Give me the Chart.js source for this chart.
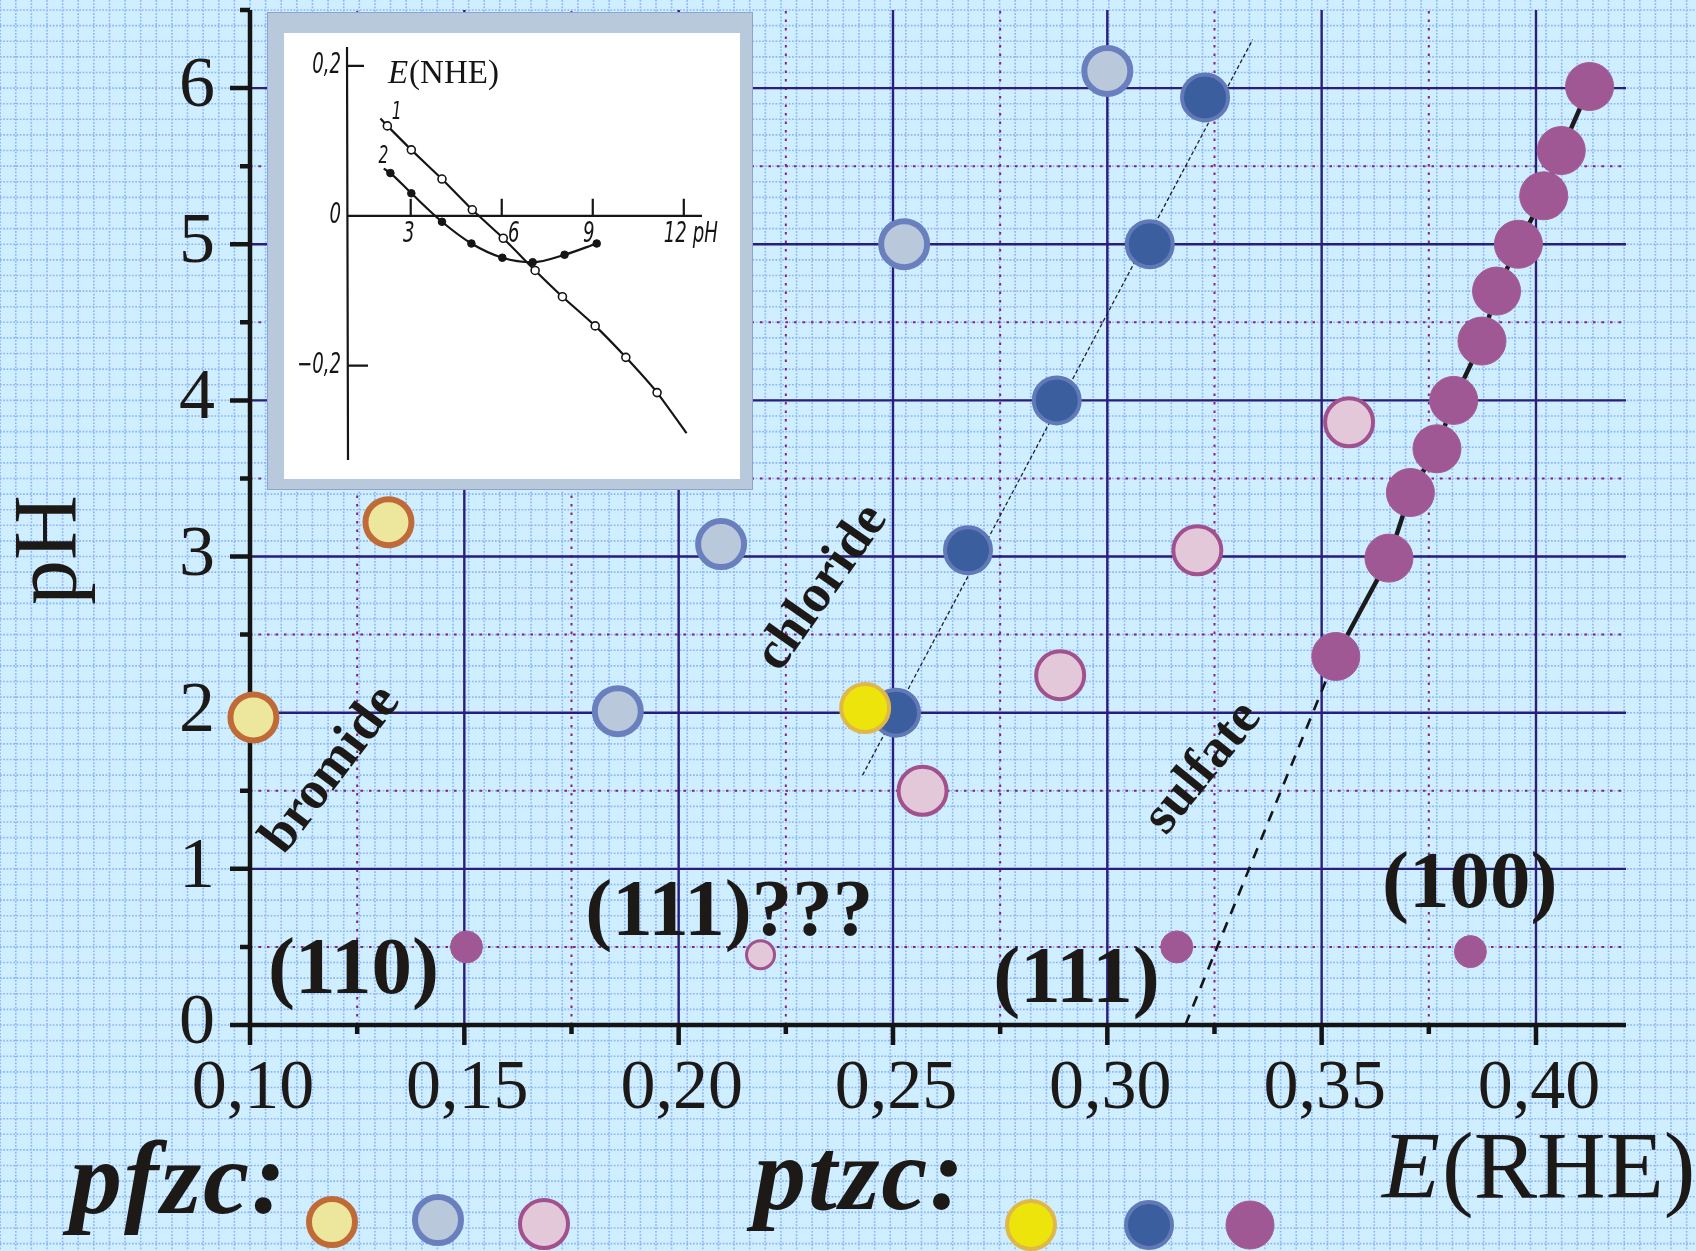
<!DOCTYPE html>
<html>
<head>
<meta charset="utf-8">
<title>pfzc / ptzc vs pH</title>
<script src="https://cdn.jsdelivr.net/npm/chart.js@4.4.1/dist/chart.umd.min.js"></script>
<style>
  html, body { margin: 0; padding: 0; background: #cdedff; }
  #wrap { position: relative; width: 1696px; height: 1251px; overflow: hidden; }
  #main { position: absolute; left: 0; top: 0; }
  #insetBox {
    position: absolute; left: 267px; top: 12px; width: 486px; height: 478px;
    box-sizing: border-box; background: #b8c9dc; border: 1.5px solid #8ea3cf;
  }
  #inset { position: absolute; left: 15.5px; top: 20px; background: #fff; }
</style>
</head>
<body>
<div id="wrap">
  <canvas id="main" width="1696" height="1251"></canvas>
  <div id="insetBox"><canvas id="inset" width="456" height="446"></canvas></div>
</div>
<script>
// ============================================
// E(RHE) vs pH : potentials of zero charge (pfzc / ptzc)
// ============================================

const SERIF = '"Liberation Serif", "DejaVu Serif", serif';
const NARROW = '"DejaVu Sans Condensed", "Liberation Sans", sans-serif';
const INK = '#1c1917';

// --- main chart data: E(RHE) in V, pH ---
// pfzc (open circles)
const pfzcBromideE  = [0.0757, 0.1008, 0.1323];
const pfzcBromidePH = [1.10, 1.97, 3.22];
const pfzcChlorideE  = [0.1858, 0.2099, 0.2526, 0.3000];
const pfzcChloridePH = [2.01, 3.08, 5.00, 6.11];
const pfzcSulfateE  = [0.2569, 0.2890, 0.3210, 0.3564];
const pfzcSulfatePH = [1.50, 2.24, 3.04, 3.86];
const pfzc111E  = [0.2191];
const pfzc111PH = [0.45];

// ptzc (filled circles)
const ptzcBromideE  = [0.2435];
const ptzcBromidePH = [2.03];
const ptzcChlorideE  = [0.2507, 0.2675, 0.2882, 0.3099, 0.3228];
const ptzcChloridePH = [2.00, 3.04, 4.00, 5.00, 5.94];
const ptzc100E  = [0.3533, 0.3657, 0.3707, 0.3769, 0.3808, 0.3874, 0.3908, 0.3959, 0.4018, 0.4059, 0.4125];
const ptzc100PH = [2.36, 2.99, 3.41, 3.69, 4.00, 4.38, 4.70, 5.00, 5.31, 5.60, 6.01];
const ptzcLowE  = [0.1505, 0.3162, 0.3847];   // (110), (111), (100) at pH 0.5
const ptzcLowPH = [0.50, 0.50, 0.47];

// guide lines
const chlorideLineE  = [0.2429, 0.3339];
const chlorideLinePH = [1.60, 6.31];
const sulfateLineE  = [0.3182, 0.3533];
const sulfateLinePH = [0.00, 2.36];

// axes
const xMajorTicks = [0.10, 0.15, 0.20, 0.25, 0.30, 0.35, 0.40];
const xTickLabels = ['0,10', '0,15', '0,20', '0,25', '0,30', '0,35', '0,40'];
const xMinorTicks = [0.125, 0.175, 0.225, 0.275, 0.325, 0.375];
const yMajorTicks = [0, 1, 2, 3, 4, 5, 6];
const yTickLabels = ['0', '1', '2', '3', '4', '5', '6'];
const yMinorTicks = [0.5, 1.5, 2.5, 3.5, 4.5, 5.5, 6.5];

// --- inset data: E(NHE) in V vs pH ---
const inset1PH = [2.00, 2.23, 3.02, 4.03, 5.03, 6.05, 7.10, 8.00, 9.08, 10.09, 11.12, 12.09];
const inset1E  = [0.130, 0.120, 0.088, 0.049, 0.008, -0.030, -0.073, -0.108, -0.147, -0.189, -0.236, -0.290];
const inset2PH = [2.11, 2.33, 3.02, 4.03, 5.00, 6.02, 7.02, 8.07, 9.13];
const inset2E  = [0.063, 0.057, 0.030, -0.008, -0.037, -0.056, -0.062, -0.052, -0.037];
const insetXTicks = [3, 6, 9, 12];
const insetXLabels = ['3', '6', '9', '12 pH'];
const insetYTicks = [0.2, 0, -0.2];
const insetYLabels = ['0,2', '0', '\u22120,2'];

// marker styles
const STYLE = {
    brOpen: { bg: '#ece79c', border: '#c06b37', bw: 6, r: 23 },
    clOpen: { bg: '#b9c8db', border: '#6a80be', bw: 6, r: 23 },
    soOpen: { bg: '#e3c8d9', border: '#a2518f', bw: 4, r: 24 },
    brFill: { bg: '#ece40b', border: '#dfb84a', bw: 4, r: 24 },
    clFill: { bg: '#3b5e9e', border: '#6279b8', bw: 4, r: 23 },
    soFill: { bg: '#9f5894', border: '#a25c97', bw: 1, r: 24 }
};

const pts = (xs, ys) => xs.map((x, i) => ({ x, y: ys[i] }));

function dotSet(xs, ys, st, order, r, bw) {
    return {
        data: pts(xs, ys),
        order,
        clip: false,
        showLine: false,
        pointRadius: r || st.r,
        pointHoverRadius: r || st.r,
        pointBackgroundColor: st.bg,
        pointBorderColor: st.border,
        pointBorderWidth: bw || st.bw
    };
}

function dot(ctx, x, y, st) {
    ctx.beginPath();
    ctx.arc(x, y, st.r, 0, Math.PI * 2);
    ctx.fillStyle = st.bg;
    ctx.fill();
    ctx.lineWidth = st.bw;
    ctx.strokeStyle = st.border;
    ctx.stroke();
}

// graph-paper background
const paperPlugin = {
    id: 'paper',
    beforeDraw(chart) {
        const { ctx, width, height } = chart;
        const sx = chart.scales.x, sy = chart.scales.y;
        const step = sy.getPixelForValue(0) - sy.getPixelForValue(0.1);
        const x0 = sx.getPixelForValue(0.10), y0 = sy.getPixelForValue(0);
        ctx.save();
        ctx.fillStyle = '#cfeeff';
        ctx.fillRect(0, 0, width, height);
        ctx.strokeStyle = 'rgba(112,156,244,0.7)';
        ctx.lineWidth = 1.6;
        ctx.setLineDash([1.7, 1.6]);
        ctx.beginPath();
        for (let px = x0 % step; px < width; px += step) {
            ctx.moveTo(px, 0); ctx.lineTo(px, height);
        }
        for (let py = y0 % step; py < height; py += step) {
            ctx.moveTo(0, py); ctx.lineTo(width, py);
        }
        ctx.stroke();
        ctx.restore();
    }
};

// grid, axes, ticks, titles
const framePlugin = {
    id: 'frame',
    beforeDatasetsDraw(chart) {
        const { ctx, chartArea: a } = chart;
        const sx = chart.scales.x, sy = chart.scales.y;
        const X = v => sx.getPixelForValue(v);
        const Y = v => sy.getPixelForValue(v);
        ctx.save();

        // minor dotted grid
        ctx.strokeStyle = '#8c1f7c';
        ctx.lineWidth = 2;
        ctx.setLineDash([2.5, 6]);
        ctx.beginPath();
        xMinorTicks.forEach(v => { ctx.moveTo(X(v), a.bottom); ctx.lineTo(X(v), a.top); });
        yMinorTicks.filter(v => v < 6.5).forEach(v => { ctx.moveTo(a.left, Y(v)); ctx.lineTo(a.right, Y(v)); });
        ctx.stroke();

        // major grid
        ctx.setLineDash([]);
        ctx.strokeStyle = '#2b1d7a';
        ctx.lineWidth = 2.4;
        ctx.beginPath();
        xMajorTicks.slice(1).forEach(v => { ctx.moveTo(X(v), a.bottom); ctx.lineTo(X(v), a.top); });
        yMajorTicks.slice(1).forEach(v => { ctx.moveTo(a.left, Y(v)); ctx.lineTo(a.right, Y(v)); });
        ctx.stroke();

        // axes + ticks
        ctx.strokeStyle = '#141414';
        ctx.lineWidth = 4.5;
        ctx.beginPath();
        ctx.moveTo(a.left - 20, a.bottom); ctx.lineTo(a.right, a.bottom);
        ctx.moveTo(a.left, a.bottom + 20); ctx.lineTo(a.left, a.top);
        xMajorTicks.forEach(v => { ctx.moveTo(X(v), a.bottom); ctx.lineTo(X(v), a.bottom + 20); });
        xMinorTicks.forEach(v => { ctx.moveTo(X(v), a.bottom); ctx.lineTo(X(v), a.bottom + 9); });
        yMajorTicks.forEach(v => { ctx.moveTo(a.left, Y(v)); ctx.lineTo(a.left - 20, Y(v)); });
        yMinorTicks.forEach(v => { ctx.moveTo(a.left, Y(v)); ctx.lineTo(a.left - 10, Y(v)); });
        ctx.stroke();

        // tick labels
        ctx.fillStyle = INK;
        ctx.font = `70px ${SERIF}`;
        ctx.textBaseline = 'alphabetic';
        ctx.textAlign = 'center';
        xMajorTicks.forEach((v, i) => ctx.fillText(xTickLabels[i], X(v) + 3, 1108));
        ctx.textAlign = 'right';
        ctx.font = `72px ${SERIF}`;
        yMajorTicks.forEach((v, i) => ctx.fillText(yTickLabels[i], a.left - 35, Y(v) + 18));

        // axis titles
        ctx.save();
        ctx.translate(76, 550);
        ctx.rotate(-Math.PI / 2);
        ctx.textAlign = 'center';
        ctx.font = `90px ${SERIF}`;
        ctx.fillText('pH', 0, 0);
        ctx.restore();

        ctx.textAlign = 'left';
        ctx.font = `italic 95px ${SERIF}`;
        ctx.fillText('E', 1382, 1198);
        const ew = ctx.measureText('E').width;
        ctx.font = `95px ${SERIF}`;
        ctx.fillText('(RHE)', 1382 + ew + 2, 1198);

        ctx.restore();
    }
};

// face labels, anion labels, legend
const notesPlugin = {
    id: 'notes',
    afterDatasetsDraw(chart) {
        const { ctx } = chart;
        const sx = chart.scales.x, sy = chart.scales.y;
        const X = v => sx.getPixelForValue(v);
        const Y = v => sy.getPixelForValue(v);
        ctx.save();
        ctx.fillStyle = INK;
        ctx.textBaseline = 'alphabetic';
        ctx.textAlign = 'left';
        ctx.font = `bold 81px ${SERIF}`;
        ctx.fillText('(110)', X(0.1042), Y(0.205));
        ctx.fillText('(111)???', X(0.1782), Y(0.576));
        ctx.fillText('(111)', X(0.2734), Y(0.147));
        ctx.fillText('(100)', X(0.3641), Y(0.756));

        ctx.font = `bold 54px ${SERIF}`;
        ctx.textAlign = 'center';
        ctx.textBaseline = 'middle';
        [['bromide', 0.1190, 1.633, -53], ['chloride', 0.2335, 2.80, -55], ['sulfate', 0.3224, 1.646, -51]]
            .forEach(([t, e, ph, deg]) => {
                ctx.save();
                ctx.translate(X(e), Y(ph));
                ctx.rotate(deg * Math.PI / 180);
                ctx.fillText(t, 0, 0);
                ctx.restore();
            });

        // legend
        ctx.textAlign = 'left';
        ctx.textBaseline = 'alphabetic';
        ctx.font = `italic bold 104px ${SERIF}`;
        ctx.letterSpacing = '2px';
        ctx.fillText('pfzc:', 70, 1213);
        ctx.fillText('ptzc:', 754, 1209);
        ctx.letterSpacing = '0px';
        dot(ctx, 332, 1222, STYLE.brOpen);
        dot(ctx, 438, 1220, STYLE.clOpen);
        dot(ctx, 544, 1224, STYLE.soOpen);
        dot(ctx, 1031, 1225, STYLE.brFill);
        dot(ctx, 1149, 1225, STYLE.clFill);
        dot(ctx, 1250, 1225, STYLE.soFill);
        ctx.restore();
    }
};

const mainChart = new Chart(document.getElementById('main'), {
    type: 'scatter',
    data: {
        datasets: [
            {
                data: pts(chlorideLineE, chlorideLinePH), order: 30, clip: false,
                showLine: true, pointRadius: 0, borderColor: '#222', borderWidth: 1.3, borderDash: [4, 2.5]
            },
            {
                data: pts(sulfateLineE, sulfateLinePH), order: 30, clip: false,
                showLine: true, pointRadius: 0, borderColor: '#151515', borderWidth: 2.6, borderDash: [11, 9]
            },
            Object.assign(dotSet(ptzc100E, ptzc100PH, STYLE.soFill, 5), {
                showLine: true, borderColor: '#1b1b1b', borderWidth: 4.5
            }),
            dotSet(ptzcLowE, ptzcLowPH, STYLE.soFill, 5, 16),
            dotSet(ptzcChlorideE, ptzcChloridePH, STYLE.clFill, 6),
            dotSet(ptzcBromideE, ptzcBromidePH, STYLE.brFill, 4),
            dotSet(pfzcBromideE, pfzcBromidePH, STYLE.brOpen, 7),
            dotSet(pfzcChlorideE, pfzcChloridePH, STYLE.clOpen, 7),
            dotSet(pfzcSulfateE, pfzcSulfatePH, STYLE.soOpen, 7),
            dotSet(pfzc111E, pfzc111PH, STYLE.soOpen, 7, 14, 3)
        ]
    },
    options: {
        responsive: false,
        animation: false,
        devicePixelRatio: 1,
        events: [],
        layout: { autoPadding: false, padding: { left: 250, right: 70, top: 10, bottom: 226 } },
        scales: {
            x: { type: 'linear', min: 0.10, max: 0.421, display: false },
            y: { type: 'linear', min: 0, max: 6.5, display: false }
        },
        plugins: { legend: { display: false }, tooltip: { enabled: false } }
    },
    plugins: [paperPlugin, framePlugin, notesPlugin]
});

// --- inset: E(NHE) vs pH ---
function narrowText(ctx, text, x, y, align) {
    // condensed lettering like the scanned original
    const k = 0.72;
    const w = ctx.measureText(text).width * k;
    const left = align === 'right' ? x - w : align === 'center' ? x - w / 2 : x;
    ctx.save();
    ctx.translate(left, y);
    ctx.scale(k, 1);
    ctx.textAlign = 'left';
    ctx.fillText(text, 0, 0);
    ctx.restore();
}

const insetPlugin = {
    id: 'insetAxes',
    beforeDatasetsDraw(chart) {
        const { ctx, chartArea: a } = chart;
        const sx = chart.scales.x, sy = chart.scales.y;
        const X = v => sx.getPixelForValue(v);
        const Y = v => sy.getPixelForValue(v);
        const y0 = Y(0);
        ctx.save();
        ctx.strokeStyle = '#151515';
        ctx.lineWidth = 2.2;
        ctx.beginPath();
        ctx.moveTo(a.left, a.top); ctx.lineTo(a.left + 1, a.bottom);
        ctx.moveTo(a.left, y0); ctx.lineTo(a.right, y0);
        insetXTicks.forEach(v => { ctx.moveTo(X(v), y0); ctx.lineTo(X(v), y0 - 17); });
        insetYTicks.filter(v => v !== 0).forEach(v => { ctx.moveTo(a.left, Y(v)); ctx.lineTo(a.left + (v > 0 ? 17 : 21), Y(v)); });
        ctx.stroke();

        ctx.fillStyle = '#151515';
        ctx.font = `italic 28px ${NARROW}`;
        ctx.textBaseline = 'middle';
        insetYTicks.forEach((v, i) => narrowText(ctx, insetYLabels[i], a.left - 6, Y(v), 'right'));
        const shift = [-2, 12, -4, 7];
        insetXTicks.forEach((v, i) => narrowText(ctx, insetXLabels[i], X(v) + shift[i], y0 + 19, 'center'));
        ctx.font = `italic 24px ${NARROW}`;
        narrowText(ctx, '1', X(2.54), Y(0.137), 'center');
        narrowText(ctx, '2', X(2.10), Y(0.079), 'center');

        ctx.textAlign = 'left';
        ctx.textBaseline = 'alphabetic';
        ctx.font = `italic 33px ${SERIF}`;
        ctx.fillText('E', X(2.25), Y(0.177));
        const ew = ctx.measureText('E').width;
        ctx.font = `33px ${SERIF}`;
        ctx.fillText('(NHE)', X(2.25) + ew + 1, Y(0.177));
        ctx.restore();
    }
};

const insetChart = new Chart(document.getElementById('inset'), {
    type: 'line',
    data: {
        datasets: [
            {
                data: pts(inset1PH, inset1E),
                borderColor: '#151515', borderWidth: 2.2, tension: 0.15,
                pointRadius: c => (c.dataIndex === 0 || c.dataIndex === inset1PH.length - 1) ? 0 : 4,
                pointBackgroundColor: '#fff', pointBorderColor: '#151515', pointBorderWidth: 1.6
            },
            {
                data: pts(inset2PH, inset2E),
                borderColor: '#151515', borderWidth: 2.2, cubicInterpolationMode: 'monotone',
                pointRadius: c => c.dataIndex === 0 ? 0 : 3.8,
                pointBackgroundColor: '#151515', pointBorderColor: '#151515', pointBorderWidth: 1
            }
        ]
    },
    options: {
        responsive: false,
        animation: false,
        devicePixelRatio: 1,
        events: [],
        layout: { autoPadding: false, padding: { left: 63, right: 38, top: 14, bottom: 19 } },
        scales: {
            x: { type: 'linear', min: 0.9, max: 12.6, display: false },
            y: { type: 'linear', min: -0.326, max: 0.2253, display: false }
        },
        plugins: { legend: { display: false }, tooltip: { enabled: false } }
    },
    plugins: [insetPlugin]
});
</script>
</body>
</html>
